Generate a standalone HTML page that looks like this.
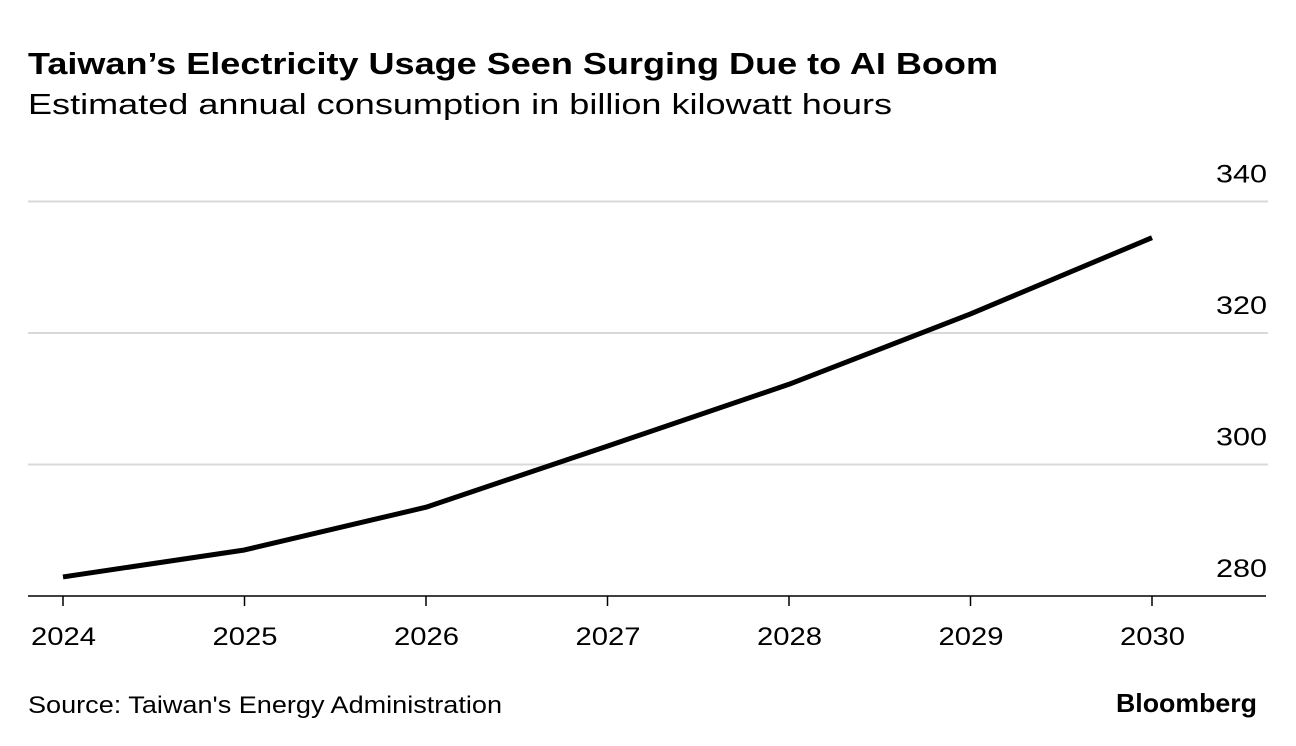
<!DOCTYPE html>
<html><head><meta charset="utf-8"><style>
body{margin:0;background:#fff;width:1296px;height:746px;overflow:hidden;font-family:"Liberation Sans",sans-serif;}
</style></head><body>
<svg width="1296" height="746" style="position:absolute;left:0;top:0">
<text x="28" y="74" font-size="31" font-weight="bold" fill="#000" textLength="970" lengthAdjust="spacingAndGlyphs">Taiwan’s Electricity Usage Seen Surging Due to AI Boom</text>
<text x="28" y="114" font-size="29" fill="#000" textLength="864" lengthAdjust="spacingAndGlyphs">Estimated annual consumption in billion kilowatt hours</text>
<g id="grid"></g>
<g id="xaxis"></g>
<g id="series"></g>
<text x="28" y="713" font-size="24" fill="#000" textLength="474" lengthAdjust="spacingAndGlyphs">Source: Taiwan's Energy Administration</text>
<text x="1116" y="712" font-size="26" font-weight="bold" fill="#000" textLength="141" lengthAdjust="spacingAndGlyphs">Bloomberg</text>
</svg>
<script>
const years = ["2024","2025","2026","2027","2028","2029","2030"];
const consumption = [282.9, 287.0, 293.5, 302.8, 312.2, 322.9, 334.5];
const yTicks = [280, 300, 320, 340];
const NS="http://www.w3.org/2000/svg";
function x(i){return 63 + i*(1152-63)/6;}
function y(v){return 596 - (v-280)*6.575;}
function mk(tag,attrs,parent){const e=document.createElementNS(NS,tag);for(const k in attrs)e.setAttribute(k,attrs[k]);parent.appendChild(e);return e;}
const grid=document.getElementById('grid'), xa=document.getElementById('xaxis'), se=document.getElementById('series');
yTicks.forEach(t=>{
  if(t!==280){
    const l=mk('line',{x1:28,x2:1268,y1:y(t),y2:y(t),stroke:'#d9d9d9','stroke-width':2},grid);
    
    
  }
  const tx=mk('text',{x:1216,y:y(t)-19,'font-size':25,fill:'#000',textLength:51,lengthAdjust:'spacingAndGlyphs'},grid);
  tx.textContent=t;
  
  
});
const base=mk('line',{x1:28,x2:1266,y1:596,y2:596,stroke:'#000','stroke-width':1.5},xa);


years.forEach((yr,i)=>{
  const tk=mk('line',{x1:x(i),x2:x(i),y1:596,y2:606,stroke:'#000','stroke-width':1.5},xa);
  
  
  const tx=mk('text',{x:x(i)-32,y:645,'font-size':25,fill:'#000',textLength:65,lengthAdjust:'spacingAndGlyphs'},xa);
  tx.textContent=yr;
  
  
});
const pts=consumption.map((v,i)=>x(i)+','+y(v)).join(' ');
const pl=mk('polyline',{points:pts,fill:'none',stroke:'#000','stroke-width':5,'stroke-linejoin':'round'},se);


</script>
</body></html>
